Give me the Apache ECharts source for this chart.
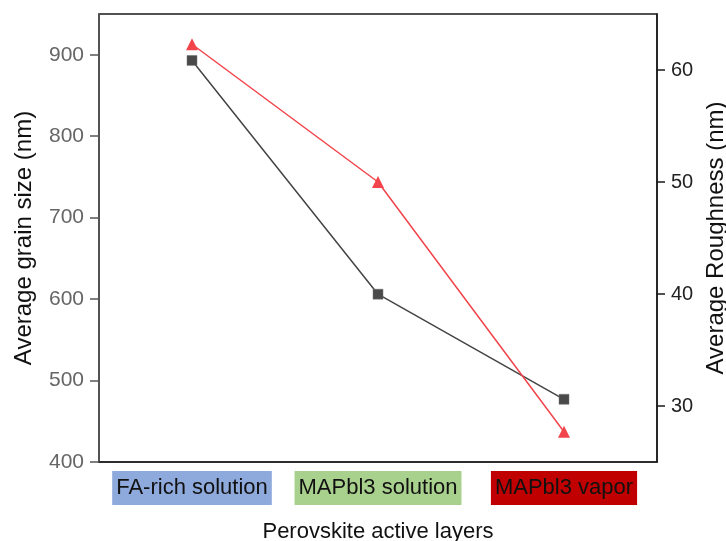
<!DOCTYPE html>
<html>
<head>
<meta charset="utf-8">
<script src="https://cdn.jsdelivr.net/npm/echarts@6/dist/echarts.min.js"></script>
<style>
  html, body { margin: 0; padding: 0; background: #fff; }
  #chart { width: 726px; height: 541px; }
</style>
</head>
<body>
<div id="chart"></div>
<script>
// data
var layers = ['FA-rich solution', 'MAPbI3 solution', 'MAPbI3 vapor'];
var layerLabels = ['FA-rich solution', 'MAPbl3 solution', 'MAPbl3 vapor'];
var grainSize = [893, 606, 477];      // nm, left axis
var roughness = [62.3, 50.0, 27.7];   // nm, right axis
var roughnessTicks = [30, 40, 50, 60];

var boxKeys = ['blue', 'green', 'red'];
var font = '"Liberation Sans", Arial, sans-serif';

var myChart = echarts.init(document.getElementById('chart'));

var boxStyle = function (bg) {
    return {
        backgroundColor: bg,
        color: '#111',
        fontSize: 22,
        lineHeight: 22,
        fontFamily: font,
        padding: [6, 4, 6, 4]
    };
};

myChart.setOption({
    backgroundColor: '#fff',
    animation: false,
    grid: {
        left: 99,
        right: 69,
        top: 14,
        bottom: 79,
        outerBoundsMode: 'none',
        containLabel: false,
        show: true,
        borderColor: '#1a1a1a',
        borderWidth: 1.5,
        backgroundColor: 'transparent'
    },
    xAxis: {
        type: 'category',
        data: layers,
        name: 'Perovskite active layers',
        nameLocation: 'middle',
        nameGap: 59,
        nameTextStyle: { fontSize: 22, color: '#111', fontFamily: font },
        axisLine: { lineStyle: { color: '#222', width: 1.5 } },
        axisTick: { alignWithLabel: true, length: 9, lineStyle: { color: '#222', width: 1.5 } },
        axisLabel: {
            margin: 15,
            formatter: function (value, idx) {
                return '{' + boxKeys[idx] + '|' + layerLabels[idx] + '}';
            },
            rich: {
                blue: boxStyle('#8EA9DB'),
                green: boxStyle('#A9D18E'),
                red: boxStyle('#C00000')
            }
        },
        splitLine: { show: false }
    },
    yAxis: [{
        type: 'value',
        min: 400,
        max: 950,
        interval: 100,
        name: 'Average grain size (nm)',
        nameLocation: 'middle',
        nameGap: 63,
        nameTextStyle: { fontSize: 24, color: '#111', fontFamily: font },
        axisLine: { show: true, lineStyle: { color: '#555', width: 1.5 } },
        axisTick: { show: true, length: 9, lineStyle: { color: '#555', width: 1.5 } },
        axisLabel: { fontSize: 21, color: '#666', fontFamily: font, margin: 15, showMaxLabel: false },
        splitLine: { show: false }
    }, {
        type: 'value',
        position: 'right',
        min: 25,
        max: 65,
        name: 'Average Roughness (nm)',
        nameLocation: 'middle',
        nameGap: 43,
        nameTextStyle: { fontSize: 24, color: '#111', fontFamily: font },
        axisLine: { show: true, lineStyle: { color: '#1a1a1a', width: 1.5 } },
        axisTick: { show: true, length: 8, customValues: roughnessTicks, lineStyle: { color: '#1a1a1a', width: 1.5 } },
        axisLabel: { fontSize: 20, color: '#222', fontFamily: font, margin: 14, customValues: roughnessTicks },
        splitLine: { show: false }
    }],
    series: [{
        name: 'Grain size',
        type: 'line',
        yAxisIndex: 0,
        data: grainSize,
        symbol: 'rect',
        symbolSize: 10,
        lineStyle: { color: '#444', width: 1.5 },
        itemStyle: { color: '#4a4a4a', borderColor: '#777', borderWidth: 0.5 }
    }, {
        name: 'Roughness',
        type: 'line',
        yAxisIndex: 1,
        data: roughness,
        symbol: 'triangle',
        symbolSize: 12,
        lineStyle: { color: '#F2444B', width: 1.5 },
        itemStyle: { color: '#F2444B' }
    }]
});
</script>
</body>
</html>
